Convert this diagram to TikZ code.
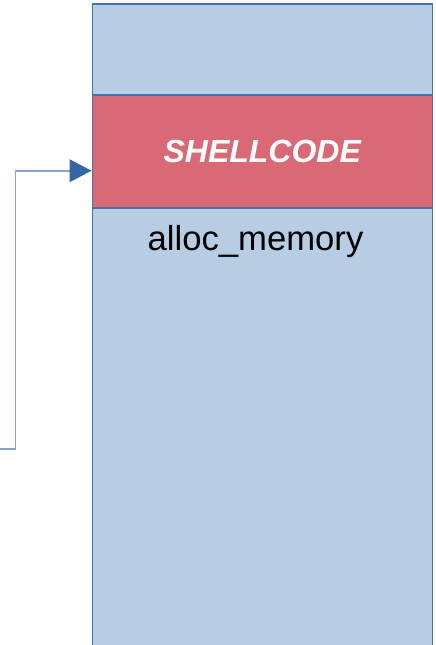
\documentclass[tikz,border=0pt]{standalone}
\usepackage{fontspec}
\setmainfont{Liberation Sans}
\usepackage{tikz}
\usetikzlibrary{positioning,arrows.meta}

\definecolor{memfill}{HTML}{B7CDE4}
\definecolor{memline}{HTML}{4A70AC}
\definecolor{shellfill}{HTML}{D96975}
\definecolor{linkline}{HTML}{86A3CE}
\definecolor{linktip}{HTML}{3465A4}

\tikzset{
	membox/.style={draw=memline, line width=1.1pt, fill=memfill, inner sep=0pt, anchor=north west},
	shellbox/.style={draw=memline, line width=1.1pt, fill=shellfill, inner sep=0pt, anchor=north west,
		text=white, font=\fontsize{24}{28}\selectfont\bfseries\itshape},
	link/.style={draw=linkline, line width=1.2pt, -{Triangle[length=16.5pt,width=17pt,color=linktip]}}
}

\begin{document}
\begin{tikzpicture}[x=0.75pt,y=-0.75pt]
		\useasboundingbox (0,0) rectangle (435,645);

		\node[membox, minimum width=340*0.75pt, minimum height=660*0.75pt] (mem) at (91.5,3.5) {};
		\node[shellbox, minimum width=340*0.75pt, minimum height=113*0.75pt] (shell) at (91.5,94.5) {SHELLCODE};
		\node[font=\fontsize{26}{30}\selectfont, anchor=base] (alloc) at (255.5,250) {alloc\_memory};

		\coordinate (src) at (-2,449);
		\coordinate (hit) at ([yshift=-19*0.75pt]shell.west);
		\draw[link] (src) -- (15.5,449) |- (hit);
	\end{tikzpicture}
\end{document}
